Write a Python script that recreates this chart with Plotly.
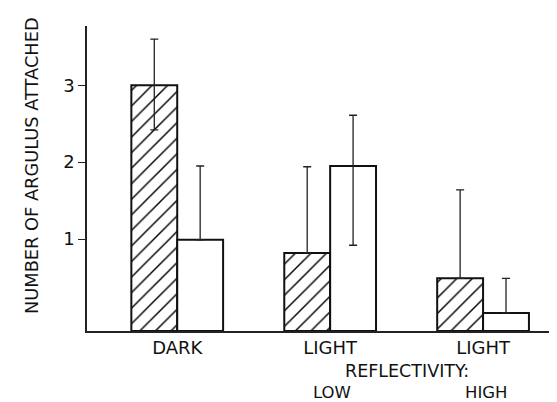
import plotly.graph_objects as go

categories = ["DARK", "LIGHT", "LIGHT"]
reflectivity_label = "REFLECTIVITY:"
reflectivity = ["LOW", "HIGH"]
hatched_vals = [3.0, 0.82, 0.49]
hatched_err_plus = [0.60, 1.12, 1.15]
hatched_err_minus = [0.58, 0.0, 0.0]
open_vals = [0.99, 1.95, 0.04]
open_err_plus = [0.96, 0.66, 0.45]
open_err_minus = [0.0, 1.03, 0.0]
ytick_vals = [1, 2, 3]
y_title = "NUMBER OF ARGULUS ATTACHED"

AXIS_MIN = -0.195
AXIS_MAX = 3.77

xpos = list(range(len(categories)))
FONT = "DejaVu Sans"
INK = "#111111"

def lengths(vals):
    return [v - AXIS_MIN for v in vals]

fig = go.Figure()
fig.add_trace(go.Bar(
    x=xpos, y=lengths(hatched_vals), base=AXIS_MIN,
    marker=dict(color="white", line=dict(color=INK, width=2),
                pattern=dict(shape="/", fgcolor="#000000", bgcolor="white", size=11,
                             solidity=0.13, fgopacity=1)),
    error_y=dict(type="data", symmetric=False, array=hatched_err_plus, arrayminus=hatched_err_minus,
                 color="#222222", thickness=1.3, width=4),
    showlegend=False,
))
fig.add_trace(go.Bar(
    x=xpos, y=lengths(open_vals), base=AXIS_MIN,
    marker=dict(color="white", line=dict(color=INK, width=2)),
    error_y=dict(type="data", symmetric=False, array=open_err_plus, arrayminus=open_err_minus,
                 color="#222222", thickness=1.3, width=4),
    showlegend=False,
))

fig.update_layout(
    width=557, height=402,
    margin=dict(l=79, r=7, t=18, b=79),
    paper_bgcolor="white", plot_bgcolor="white",
    barmode="group", bargap=0.40, bargroupgap=0.0,
    font=dict(family=FONT, color=INK, size=17),
    xaxis=dict(range=[-0.59, 2.49], tickmode="array", tickvals=xpos, ticktext=categories,
               showline=True, linecolor="#222222", linewidth=1.5, ticks="",
               showgrid=False, zeroline=False, tickfont=dict(size=18, family=FONT, color=INK)),
    yaxis=dict(range=[AXIS_MIN, AXIS_MAX], tickmode="array", tickvals=ytick_vals,
               ticktext=[str(v) for v in ytick_vals],
               showline=True, linecolor="#222222", linewidth=1.5, ticks="outside", ticklen=7,
               tickcolor="#222222", tickwidth=1.3, showgrid=False, zeroline=False,
               tickfont=dict(size=18, family=FONT, color=INK)),
)

fig.add_annotation(x=-0.119, xref="paper", y=0.544, yref="paper", text=y_title, textangle=-90,
                   showarrow=False, xanchor="center", yanchor="middle",
                   font=dict(size=17.8, family=FONT, color=INK))
fig.add_annotation(x=1.5, xref="x", y=-0.131, yref="paper", text=reflectivity_label,
                   showarrow=False, font=dict(size=17.5, family=FONT, color=INK), yanchor="middle")
fig.add_annotation(x=1.01, xref="x", y=-0.201, yref="paper", text=reflectivity[0],
                   showarrow=False, font=dict(size=16.5, family=FONT, color=INK), yanchor="middle")
fig.add_annotation(x=2.02, xref="x", y=-0.201, yref="paper", text=reflectivity[1],
                   showarrow=False, font=dict(size=16.5, family=FONT, color=INK), yanchor="middle")

fig.write_html("out.html")
